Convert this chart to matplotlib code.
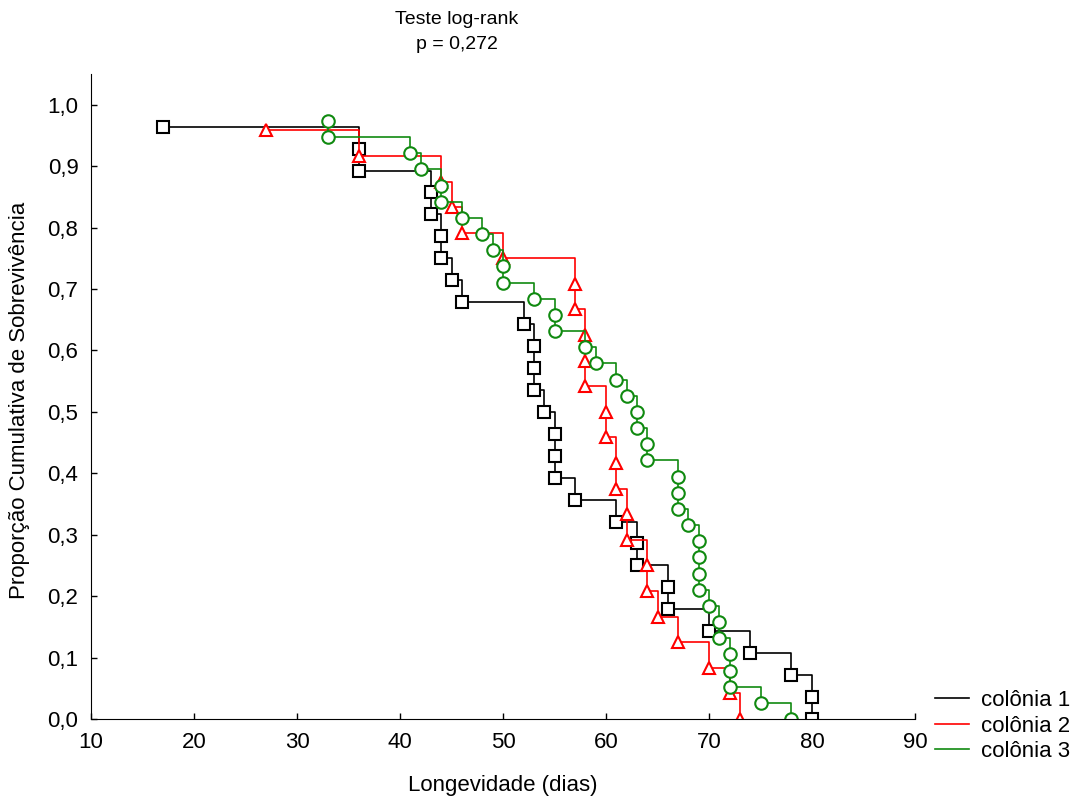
import numpy as np
import matplotlib
matplotlib.use('Agg')
import matplotlib.pyplot as plt
from matplotlib.ticker import FuncFormatter

plt.rcParams['font.family'] = ['Liberation Sans', 'DejaVu Sans']

# Longevity (days) of each individual, one entry per death
colonia1 = [17, 36, 36, 43, 43, 44, 44, 45, 46, 52, 53, 53, 53, 54, 55, 55, 55,
            57, 61, 63, 63, 66, 66, 70, 74, 78, 80, 80]
colonia2 = [27, 36, 44, 45, 46, 50, 57, 57, 58, 58, 58, 60, 60, 61, 61, 62, 62,
            64, 64, 65, 67, 70, 72, 73]
colonia3 = [33, 33, 41, 42, 44, 44, 46, 48, 49, 50, 50, 53, 55, 55, 58, 59, 61,
            62, 63, 63, 64, 64, 67, 67, 67, 68, 69, 69, 69, 69, 70, 71, 71, 72,
            72, 72, 75, 78]

labels = ['colônia 1', 'colônia 2', 'colônia 3']
colors = ['black', '#ff0000', '#108a10']
markers = ['s', '^', 'o']


def km(times):
    # cumulative survival after each individual death (no censoring)
    t = np.sort(np.array(times))
    n = len(t)
    s = (n - np.arange(1, n + 1)) / n
    return t, s


fig = plt.figure(figsize=(10.75, 7.98), dpi=100)
ax = fig.add_axes([91 / 1075, 1 - 719 / 798, 824 / 1075, 645 / 798])

for data, lab, c, m in zip([colonia1, colonia2, colonia3], labels, colors, markers):
    t, s = km(data)
    ax.plot(t, s, drawstyle='steps-post', color=c, lw=1.2, label=lab)
    ax.plot(t, s, linestyle='none', marker=m, markersize=8.5 if m != 'o' else 9,
            markerfacecolor='white', markeredgecolor=c, markeredgewidth=1.5)

ax.set_xlim(10, 90)
ax.set_ylim(0, 1.05)
ax.set_xticks(range(10, 91, 10))
ax.set_yticks(np.arange(0, 1.01, 0.1))
ax.yaxis.set_major_formatter(FuncFormatter(lambda v, p: f'{v:.1f}'.replace('.', ',')))
ax.tick_params(direction='in', length=4, width=1, labelsize=16, pad=9)
ax.spines['top'].set_visible(False)
ax.spines['right'].set_visible(False)

fig.text(503 / 1075, 1 - 785 / 798, 'Longevidade (dias)', ha='center', va='center', fontsize=16)
fig.text(20 / 1075, 1 - 400 / 798, 'Proporção Cumulativa de Sobrevivência',
         ha='center', va='center', rotation=90, fontsize=16)
fig.text(457 / 1075, 1 - 32 / 798, 'Teste log-rank\np = 0,272', ha='center', va='center',
         fontsize=14, linespacing=1.65)

handles = ax.get_lines()[0::2]
fig.legend(handles, labels, loc='center left', bbox_to_anchor=(935 / 1075, 1 - 726 / 798),
           frameon=False, fontsize=16, handlelength=1.55, handletextpad=0.5,
           labelspacing=0.2, borderpad=0, borderaxespad=0)

fig.savefig('out.png', dpi=100)
